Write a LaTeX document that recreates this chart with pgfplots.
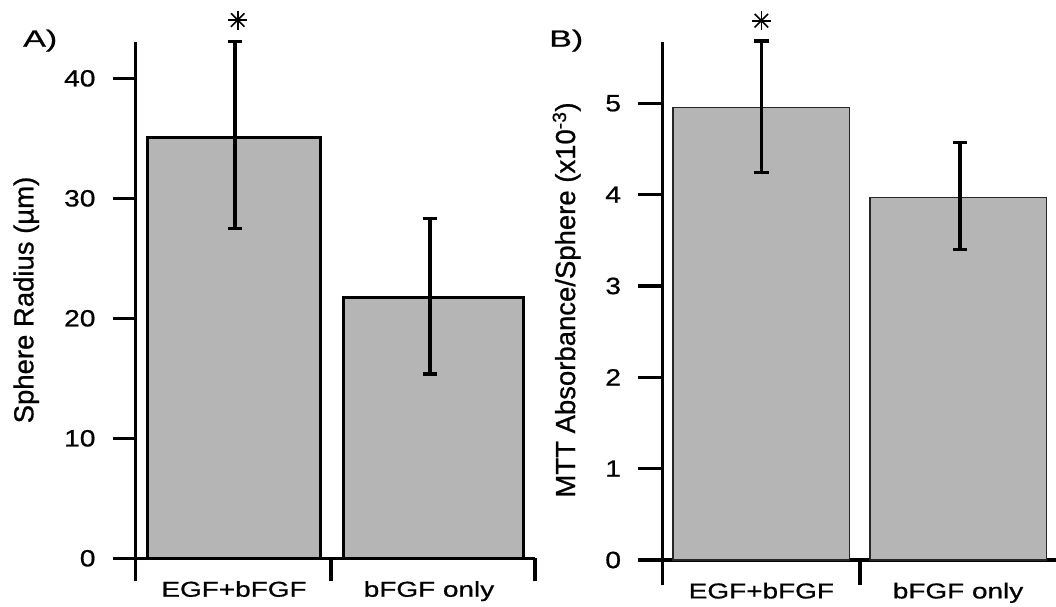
\documentclass[border=0pt]{standalone}
\usepackage{fontspec}
\setmainfont{Liberation Sans}[FakeBold=0.8]
\newfontfamily\tickfont{Liberation Sans}[FakeStretch=1.2, FakeBold=0.8]
\newfontfamily\catfont{Liberation Sans}[FakeStretch=1.3, FakeBold=0.8]
\newfontfamily\panelfont{Liberation Sans}[FakeStretch=1.45, FakeBold=0.8]
\usepackage{pgfplots}
\usepackage{pgfplotstable}
\pgfplotsset{compat=1.18}
\definecolor{barfill}{RGB}{181,181,181}

% error bars: x, mean, plus, minus
\pgfplotstableread{
x y ep em
-0.002 35.10 7.95 7.63
0.974 21.70 6.60 6.34
}\errA
\pgfplotstableread{
x y ep em
0.000 4.95 0.73 0.71
1.007 3.97 0.60 0.57
}\errB

\pgfplotsset{
  panel/.style={
    scale only axis, clip=false,
    xmin=-0.5, xmax=1.5, ymin=0,
    axis x line=bottom, axis y line=left,
    axis line style={-, line width=3.4bp, black},
    tick align=outside,
    tick style={black, line width=3.4bp},
    xticklabels={,,},
    /pgf/number format/assume math mode=true,
    yticklabel style={font=\tickfont\fontsize{23.5bp}{26bp}\selectfont, anchor=east, inner sep=0pt, xshift=-17bp},
    extra x tick style={major tick length=0pt, tick style={draw=none},
      xticklabel style={font=\catfont\fontsize{21.5bp}{24bp}\selectfont, anchor=base, inner sep=0pt, yshift=-38.4bp}},
    every axis y label/.style={rotate=90, anchor=base, font=\fontsize{27.5bp}{30bp}\selectfont},
  },
  errstyle/.style={draw=none, mark=none, forget plot,
    error bars/.cd, y dir=both, y explicit,
    error bar style={draw=black, line width=3.4bp, solid},
    error mark options={draw=black, line width=3.4bp, mark size=7.2bp, rotate=90}},
  starA/.style={only marks, mark size=9.5bp, mark options={black, line width=1.6bp}},
}

\begin{document}
\begin{tikzpicture}
\useasboundingbox (0bp,0bp) rectangle (1056bp,-607bp);

% ---------------- Panel A ----------------
\begin{axis}[panel,
  at={(135.7bp,-558.3bp)}, anchor=south west, width=399.3bp, height=516.3bp,
  ymax=43.03, ytick={0,10,20,30,40},
  xtick={-0.5,0.478,1.5},
  major tick length=23bp,
  extra x ticks={-0.0077,0.969}, extra x tick labels={EGF+bFGF,bFGF only},
  ylabel={Sphere Radius (µm)},
  every axis y label/.append style={at={(axis description cs:-0.2564,0.5003)}},
]
\addplot[ybar, bar width=0.8665, bar shift=0pt, fill=barfill, draw=black, line width=3.1bp] coordinates {(-0.0066,35.1)};
\addplot[ybar, bar width=0.9016, bar shift=0pt, fill=barfill, draw=black, line width=3.1bp] coordinates {(0.9906,21.7)};
\addplot[errstyle] table[x=x, y=y, y error plus=ep, y error minus=em] {\errA};
\addplot[starA, mark=+] coordinates {(0.011,44.86)};
\addplot[starA, mark=x] coordinates {(0.011,44.86)};
\end{axis}

% ---------------- Panel B ----------------
\begin{axis}[panel,
  at={(662.7bp,-560bp)}, anchor=south west, width=394.6bp, height=518bp,
  ymax=5.671, ytick={0,1,2,3,4,5},
  xtick={-0.5,0.5,1.5},
  major tick length=24.5bp,
  extra x ticks={0,0.997}, extra x tick labels={EGF+bFGF,bFGF only},
  ylabel={MTT Absorbance/Sphere (x10\textsuperscript{-3})},
  every axis y label/.append style={at={(axis description cs:-0.2222,0.502)}},
]
\addplot[ybar, bar width=0.895, bar shift=0pt, fill=barfill, draw=black!85, line width=1.2bp] coordinates {(0,4.95)};
\addplot[ybar, bar width=0.8956, bar shift=0pt, fill=barfill, draw=black!85, line width=1.2bp] coordinates {(0.998,3.97)};
\addplot[errstyle] table[x=x, y=y, y error plus=ep, y error minus=em] {\errB};
\addplot[starA, mark=+] coordinates {(0,5.904)};
\addplot[starA, mark=x] coordinates {(0,5.904)};
\end{axis}

\node[anchor=base west, inner sep=0pt] at (23bp,-46.7bp) {\panelfont\fontsize{23.5bp}{26bp}\selectfont A)};
\node[anchor=base west, inner sep=0pt] at (549bp,-46.7bp) {\panelfont\fontsize{23.5bp}{26bp}\selectfont B)};
\end{tikzpicture}
\end{document}
